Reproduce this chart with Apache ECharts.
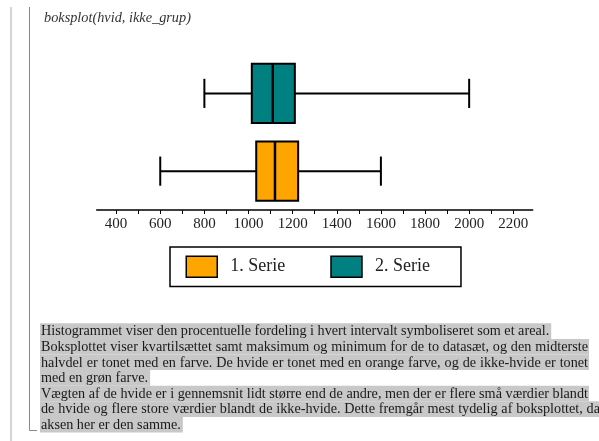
<!DOCTYPE html>
<html>
<head>
<meta charset="utf-8">
<script src="https://cdn.jsdelivr.net/npm/echarts@6/dist/echarts.min.js"></script>
<style>
  html, body { margin: 0; padding: 0; background: #fff; }
  #chart { width: 599px; height: 441px; }
</style>
</head>
<body>
<div id="chart"></div>
<script>
// data
const categories = ['1. Serie', '2. Serie'];
const mins = [600, 800];
const q1s = [1035, 1015];
const medians = [1120, 1110];
const q3s = [1225, 1210];
const maxs = [1600, 2000];
const labelValues = [400, 600, 800, 1000, 1200, 1400, 1600, 1800, 2000, 2200];
const tickValues = [400, 500, 600, 700, 800, 900, 1000, 1100, 1200, 1300, 1400, 1500, 1600, 1700, 1800, 1900, 2000, 2100, 2200];
const title = 'boksplot(hvid, ikke_grup)';
const textLines = [
  'Histogrammet viser den procentuelle fordeling i hvert intervalt symboliseret som et areal.',
  'Boksplottet viser kvartilsættet samt maksimum og minimum for de to datasæt, og den midterste',
  'halvdel er tonet med en farve. De hvide er tonet med en orange farve, og de ikke-hvide er tonet',
  'med en grøn farve.',
  'Vægten af de hvide er i gennemsnit lidt større end de andre, men der er flere små værdier blandt',
  'de hvide og flere store værdier blandt de ikke-hvide. Dette fremgår mest tydelig af boksplottet, da',
  'aksen her er den samme.'
];
const boxColors = ['#ffa500', '#008080'];

const serif = '"Liberation Serif", "DejaVu Serif", serif';

function renderBox(params, api) {
  const cat = api.value(0);
  const pMin = api.coord([api.value(1), cat]);
  const pQ1 = api.coord([api.value(2), cat]);
  const pMed = api.coord([api.value(3), cat]);
  const pQ3 = api.coord([api.value(4), cat]);
  const pMax = api.coord([api.value(5), cat]);
  const band = api.size([0, 1])[1];
  const bh = band * 0.76, ch = band * 0.375;
  const y = pMin[1];
  const ls = { stroke: '#000', lineWidth: 2 };
  return {
    type: 'group',
    children: [
      { type: 'line', shape: { x1: pMin[0], y1: y, x2: pQ1[0], y2: y }, style: ls },
      { type: 'line', shape: { x1: pQ3[0], y1: y, x2: pMax[0], y2: y }, style: ls },
      { type: 'line', shape: { x1: pMin[0], y1: y - ch / 2, x2: pMin[0], y2: y + ch / 2 }, style: ls },
      { type: 'line', shape: { x1: pMax[0], y1: y - ch / 2, x2: pMax[0], y2: y + ch / 2 }, style: ls },
      { type: 'rect', shape: { x: pQ1[0], y: y - bh / 2, width: pQ3[0] - pQ1[0], height: bh },
        style: { fill: api.visual('color'), stroke: '#000', lineWidth: 2 } },
      { type: 'line', shape: { x1: pMed[0], y1: y - bh / 2, x2: pMed[0], y2: y + bh / 2 }, style: { stroke: '#000', lineWidth: 2.5 } }
    ]
  };
}

const graphics = [
  { type: 'line', shape: { x1: 11, y1: 7, x2: 11, y2: 441 }, style: { stroke: '#aaa', lineWidth: 1 } },
  { type: 'polyline', shape: { points: [[29.5, 7], [29.5, 430.5], [37, 430.5]] }, style: { stroke: '#888', lineWidth: 1, fill: null } },
  { type: 'text', x: 44, y: 18, style: { text: title, font: 'italic 14.3px ' + serif, fill: '#333', textVerticalAlign: 'middle' } }
];

// paragraph: justified lines (2,3,5,6) are stretched to the right edge
const bodyFont = '14.2px ' + serif;
const justifyTo = [0, 589, 589, 0, 589, 601, 0];
const measure = document.createElement('canvas').getContext('2d');
measure.font = bodyFont;
const left = 41, lineH = 15.6, top0 = 323.3;
textLines.forEach((t, i) => {
  const top = top0 + lineH * i;
  const words = t.split(' ');
  const ws = words.map(w => measure.measureText(w).width);
  const end = justifyTo[i] || (left + measure.measureText(t).width + 2);
  graphics.push({ type: 'rect', shape: { x: left - 1, y: top, width: end - left + 1, height: lineH }, style: { fill: '#c8c8c8' }, z: 1 });
  let gap = measure.measureText(' ').width;
  if (justifyTo[i]) gap = (end - 1 - left - ws.reduce((a, b) => a + b, 0)) / (words.length - 1);
  let x = left;
  words.forEach((w, k) => {
    graphics.push({ type: 'text', x: x, y: top + lineH / 2 + 0.5, z: 2,
      style: { text: w, font: bodyFont, fill: '#1a1a1a', textVerticalAlign: 'middle' } });
    x += ws[k] + gap;
  });
});

const chart = echarts.init(document.getElementById('chart'));
chart.setOption({
  animation: false,
  grid: { left: 96.7, right: 66.3, top: 54.5, bottom: 231 },
  xAxis: {
    type: 'value', min: 312, max: 2288,
    splitLine: { show: false },
    axisLine: { show: true, lineStyle: { color: '#000', width: 1.5 } },
    axisTick: { show: true, customValues: tickValues, length: 4, lineStyle: { color: '#000' } },
    axisLabel: {
      customValues: labelValues, margin: 7, fontFamily: serif, fontSize: 15, color: '#222',
      formatter: v => String(v)
    }
  },
  yAxis: {
    type: 'category', data: categories, show: false
  },
  legend: {
    left: 170, top: 247,
    padding: [8.5, 31, 8.5, 15.5],
    borderColor: '#000', borderWidth: 1.5,
    itemWidth: 31, itemHeight: 21, itemGap: 45,
    selectedMode: false,
    textStyle: { fontFamily: serif, fontSize: 18, color: '#222', padding: [0, 0, 0, 8] },
    data: categories.map((c, i) => ({
      name: c, icon: 'rect',
      itemStyle: { color: boxColors[i], borderColor: '#000', borderWidth: 1.5 }
    }))
  },
  graphic: graphics,
  series: categories.map((c, i) => ({
    name: c,
    type: 'custom',
    renderItem: renderBox,
    itemStyle: { color: boxColors[i] },
    encode: { x: [1, 2, 3, 4, 5], y: 0 },
    data: [[i, mins[i], q1s[i], medians[i], q3s[i], maxs[i]]]
  }))
});
</script>
</body>
</html>
